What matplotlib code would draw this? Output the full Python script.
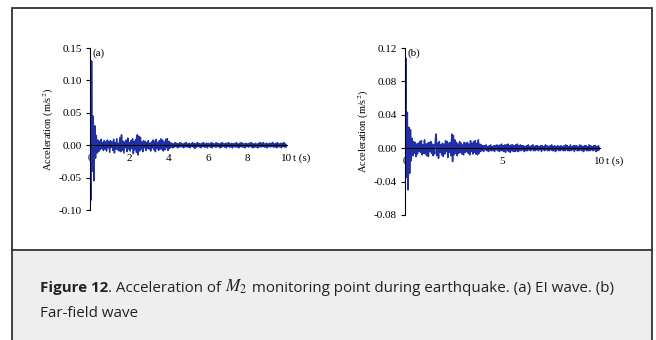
import numpy as np
import matplotlib
matplotlib.use("Agg")
import matplotlib.pyplot as plt
from matplotlib.patches import Rectangle
from matplotlib.transforms import ScaledTranslation

plt.rcParams['mathtext.fontset'] = 'stix'

# acceleration samples in units of 1e-3 m/s^2, sampled every 0.04 s from 0 to 10 s
acc_a = [
    0, -85, 130, -40, 45, -55, 30, -20, 15, -12,
    8, -10, 6, -7, 9, -5, 4, -8, 7, -6,
    5, -9, 8, -4, 6, -11, 7, -3, 5, -8,
    9, -12, 4, -6, 10, -7, 3, -9, 12, -10,
    16, -8, 6, -12, 5, -4, 8, -10, 11, -6,
    4, -9, 7, -5, 10, -13, 6, -7, 9, -11,
    16, -15, 14, -9, 12, -6, 5, -10, 7, -4,
    6, -8, 4, -5, 7, -6, 3, -9, 5, -4,
    8, -7, 6, -10, 9, -5, 4, -8, 7, -6,
    10, -6, 8, -9, 5, -7, 9, -4, 10, -8,
    6, -5, 4, -3, 3, -4, 2, -3, 4, -2,
    3, -4, 2, -3, 4, -2, 3, -3, 2, -4,
    3, -2, 4, -3, 2, -3, 3, -4, 2, -2,
    4, -3, 3, -5, 2, -3, 4, -2, 3, -3,
    2, -4, 3, -2, 4, -3, 2, -3, 3, -4,
    3, -2, 2, -3, 4, -4, 3, -2, 2, -3,
    4, -3, 3, -2, 2, -4, 3, -3, 4, -2,
    2, -3, 3, -4, 3, -2, 4, -3, 2, -3,
    3, -4, 2, -2, 3, -3, 4, -3, 2, -4,
    3, -2, 4, -3, 3, -3, 2, -4, 3, -2,
    2, -3, 3, -2, 4, -3, 3, -4, 2, -3,
    3, -3, 2, -4, 3, -2, 4, -3, 3, -2,
    4, -3, 2, -3, 3, -4, 2, -2, 3, -3,
    3, -2, 4, -3, 2, -3, 3, -4, 4, -2,
    2, -3, 3, -4, 3, -2, 4, -3, 2, -3,
    0,
]
acc_b = [
    0, 108, -35, 43, -50, 25, -30, 22, -15, 12,
    -9, 8, -6, 7, -10, 5, -7, 6, -4, 8,
    -5, 9, -8, 4, -6, 10, -7, 5, -9, 6,
    -10, 7, -4, 8, -6, 5, -9, 4, -7, 11,
    17, -9, 6, -12, 8, -5, 4, -8, 6, -10,
    5, -7, 9, -4, 8, -11, 6, -5, 7, -9,
    17, -16, 15, -8, 10, -6, 7, -9, 5, -6,
    8, -5, 6, -7, 4, -8, 7, -5, 6, -4,
    7, -6, 5, -8, 9, -4, 6, -7, 8, -5,
    9, -7, 6, -8, 10, -6, 5, -4, 4, -3,
    3, -4, 3, -2, 4, -3, 2, -4, 3, -3,
    4, -3, 2, -3, 3, -4, 3, -2, 4, -3,
    3, -4, 4, -3, 5, -3, 3, -4, 4, -5,
    4, -3, 5, -4, 3, -5, 4, -3, 4, -4,
    3, -4, 4, -3, 5, -4, 3, -3, 4, -3,
    3, -2, 3, -4, 2, -3, 3, -3, 4, -2,
    2, -3, 3, -2, 4, -3, 2, -3, 3, -2,
    3, -3, 2, -2, 3, -4, 3, -2, 2, -3,
    4, -2, 3, -3, 2, -3, 3, -2, 4, -3,
    2, -3, 3, -4, 2, -2, 3, -3, 2, -3,
    3, -2, 2, -3, 3, -3, 4, -2, 3, -3,
    2, -3, 4, -3, 2, -2, 3, -4, 3, -2,
    3, -3, 2, -3, 4, -2, 3, -3, 2, -4,
    3, -2, 3, -3, 2, -3, 4, -3, 3, -2,
    2, -3, 3, -2, 3, -4, 2, -3, 3, -2,
    0,
]
dt = 0.04
time_a = np.arange(len(acc_a)) * dt
time_b = np.arange(len(acc_b)) * dt

yticks_a = [-0.10, -0.05, 0.00, 0.05, 0.10, 0.15]
yticks_b = [-0.08, -0.04, 0.00, 0.04, 0.08, 0.12]
xticks_a = [0, 2, 4, 6, 8, 10]
xticks_b = [0, 5, 10]

line_color = '#1f2fa6'
serif = 'Liberation Serif'

W, H = 656, 340
fig = plt.figure(figsize=(W / 100, H / 100), dpi=100)

# frame and caption box
fig.patches.append(Rectangle((12 / W, 0), 640 / W, 90 / H, transform=fig.transFigure,
                             facecolor='#eeeeee', edgecolor='none', zorder=0))
fig.patches.append(Rectangle((12 / W, -0.05), 640 / W, 332 / H + 0.05,
                             transform=fig.transFigure, facecolor='none',
                             edgecolor='#333333', linewidth=1.3, zorder=1))
fig.lines.append(plt.Line2D([12 / W, 652 / W], [90 / H, 90 / H], transform=fig.transFigure,
                            color='#333333', linewidth=1.3))


def panel(rect, t, acc, ylim, yticks, xticks, tag, tlab_x):
    ax = fig.add_axes(rect)
    ax.plot(t, np.array(acc) / 1000.0, color=line_color, linewidth=1.1)
    ax.set_xlim(0, 10)
    ax.set_ylim(*ylim)
    ax.spines['top'].set_visible(False)
    ax.spines['right'].set_visible(False)
    ax.spines['bottom'].set_position(('data', 0))
    ax.spines['left'].set_linewidth(0.8)
    ax.spines['bottom'].set_linewidth(0.8)
    ax.set_yticks(yticks)
    ax.set_yticklabels(['%.2f' % v for v in yticks], fontfamily=serif, fontsize=8)
    ax.set_xticks(xticks)
    ax.set_xticklabels([str(v) for v in xticks], fontfamily=serif, fontsize=8)
    ax.tick_params(axis='y', direction='out', length=3, width=0.8, pad=3)
    ax.tick_params(axis='x', length=0, pad=6)
    ax.set_ylabel('Acceleration (m/s$^2$)', fontfamily=serif, fontsize=7.5, labelpad=2)
    ax.text(0.015, 1.0, tag, transform=ax.transAxes, fontfamily=serif, fontsize=8,
            ha='left', va='top')
    shift = ax.transData + ScaledTranslation(0, -6 / 72, fig.dpi_scale_trans)
    ax.text(tlab_x, 0, 't (s)', transform=shift,
            fontfamily=serif, fontsize=8, ha='left', va='top')
    return ax


ax1 = panel([90 / W, 130 / H, 197 / W, 162 / H], time_a, acc_a, (-0.10, 0.15),
            yticks_a, xticks_a, '(a)', 10.28)
ax2 = panel([405 / W, 125 / H, 195 / W, 167 / H], time_b, acc_b, (-0.08, 0.12),
            yticks_b, xticks_b, '(b)', 10.32)

# caption
cap_font = 'Open Sans'
cap_size = 10.9
cap_color = '#222222'
x0, y1, y2 = 40 / W, 1 - 292 / H, 1 - 317 / H
pieces = [('Figure 12', dict(fontfamily=cap_font, fontweight='bold', fontsize=cap_size)),
          ('. Acceleration of ', dict(fontfamily=cap_font, fontsize=cap_size)),
          (r'$M_2$', dict(fontsize=cap_size + 1.5)),
          (' monitoring point during earthquake. (a) EI wave. (b)',
           dict(fontfamily=cap_font, fontsize=cap_size))]
x = x0
renderer = fig.canvas.get_renderer()
for s, kw in pieces:
    t = fig.text(x, y1, s, ha='left', va='baseline', color=cap_color, **kw)
    x = t.get_window_extent(renderer=renderer).x1 / W
fig.text(x0, y2, 'Far-field wave', fontfamily=cap_font, fontsize=cap_size,
         ha='left', va='baseline', color=cap_color)

fig.savefig('out.png', dpi=100)
